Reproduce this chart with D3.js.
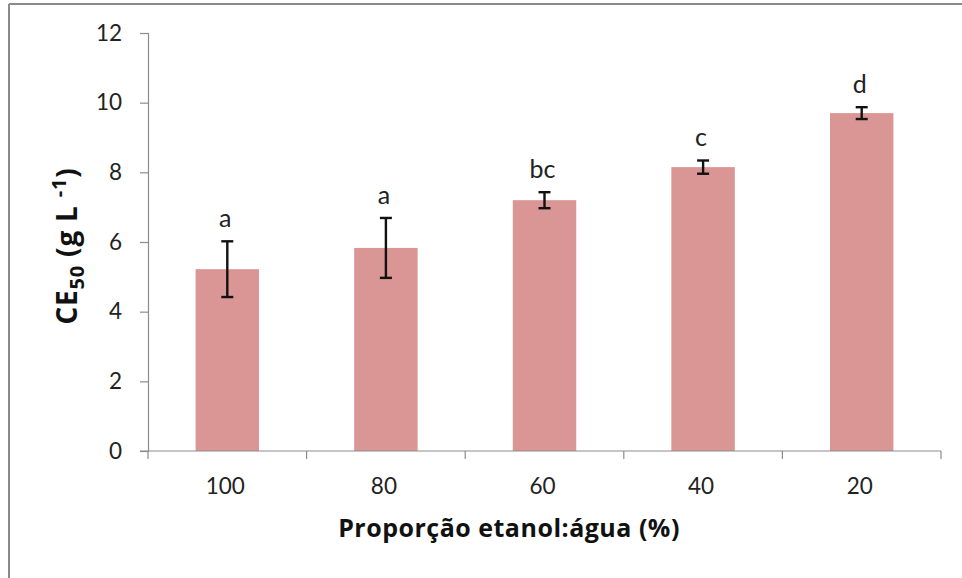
<!DOCTYPE html>
<html>
<head>
<meta charset="utf-8">
<script src="https://cdn.jsdelivr.net/npm/d3@7"></script>
<style>
  html, body { margin: 0; padding: 0; background: #fff; }
  svg { display: block; font-family: Lato, "Open Sans", "Noto Sans", sans-serif; }
</style>
</head>
<body>
<svg id="chart" width="962" height="578"></svg>
<script>
// Data: CE50 by ethanol:water proportion
const categories = ["100", "80", "60", "40", "20"];
const means = [5.22, 5.83, 7.20, 8.15, 9.70];
const errors = [0.80, 0.86, 0.23, 0.19, 0.17];
const letters = ["a", "a", "bc", "c", "d"];
const yTicks = [0, 2, 4, 6, 8, 10, 12];

const svg = d3.select("#chart");
const W = 962, H = 578;
const bodyFont = "Lato, 'Open Sans', sans-serif";
const titleFont = "'Open Sans', Lato, sans-serif";

// Frame (top and left edges)
svg.append("line").attr("x1", 9).attr("x2", W).attr("y1", 4).attr("y2", 4)
  .attr("stroke", "#8a8a8a").attr("stroke-width", 2);
svg.append("line").attr("x1", 9).attr("x2", 9).attr("y1", 4).attr("y2", H)
  .attr("stroke", "#8a8a8a").attr("stroke-width", 2);

const plot = { left: 148, right: 941, top: 33, bottom: 451 };

const x = d3.scaleBand().domain(categories)
  .range([plot.left, plot.right]).paddingInner(0).paddingOuter(0);
const y = d3.scaleLinear().domain([0, 12]).range([plot.bottom, plot.top]);

const barW = x.bandwidth() * 0.4;

// Bars
svg.append("g").selectAll("rect").data(categories).join("rect")
  .attr("x", (d) => x(d) + (x.bandwidth() - barW) / 2)
  .attr("width", barW)
  .attr("y", (d, i) => y(means[i]))
  .attr("height", (d, i) => y(0) - y(means[i]))
  .attr("fill", "#d99694");

// Y axis
const yAxis = svg.append("g").attr("transform", `translate(${plot.left},0)`)
  .call(d3.axisLeft(y).tickValues(yTicks).tickSize(8).tickPadding(18).tickFormat(d3.format("d")));
yAxis.attr("font-family", null).attr("font-size", null);
yAxis.select(".domain").attr("stroke", "#8c8c8c").attr("stroke-width", 1.2);
yAxis.selectAll(".tick line").attr("stroke", "#8c8c8c").attr("stroke-width", 1.2);
yAxis.selectAll(".tick text").style("font-size", "22.5px").attr("fill", "#222")
  .style("font-family", bodyFont);

// X axis with category boundary ticks
const xAxisG = svg.append("g").attr("transform", `translate(0,${plot.bottom})`);
xAxisG.append("line").attr("x1", plot.left - 8).attr("x2", plot.right)
  .attr("y1", 0).attr("y2", 0).attr("stroke", "#8c8c8c").attr("stroke-width", 1.2);
const bounds = categories.map((d) => x(d)).concat([plot.right]);
xAxisG.selectAll("line.bt").data(bounds).join("line").attr("class", "bt")
  .attr("x1", (d) => d).attr("x2", (d) => d).attr("y1", 0).attr("y2", 8)
  .attr("stroke", "#8c8c8c").attr("stroke-width", 1.2);
xAxisG.selectAll("text").data(categories).join("text")
  .attr("x", (d) => x(d) + x.bandwidth() / 2 - 2)
  .attr("y", 43)
  .attr("text-anchor", "middle")
  .style("font-family", bodyFont).style("font-size", "22.5px").attr("fill", "#222")
  .text((d) => d);

// Error bars
const eb = svg.append("g").attr("stroke", "#111").attr("stroke-width", 2.4);
categories.forEach((c, i) => {
  const cx = x(c) + x.bandwidth() / 2;
  const y1 = y(means[i] + errors[i]), y0 = y(means[i] - errors[i]);
  eb.append("line").attr("x1", cx).attr("x2", cx).attr("y1", y1).attr("y2", y0);
  eb.append("line").attr("x1", cx - 6).attr("x2", cx + 6).attr("y1", y1).attr("y2", y1);
  eb.append("line").attr("x1", cx - 6).attr("x2", cx + 6).attr("y1", y0).attr("y2", y0);
});

// Significance letters above the error bars
svg.append("g").selectAll("text").data(categories).join("text")
  .attr("x", (d) => x(d) + x.bandwidth() / 2 - 2)
  .attr("y", (d, i) => y(means[i] + errors[i]) - 14)
  .attr("text-anchor", "middle")
  .style("font-family", bodyFont).style("font-size", "25px").attr("fill", "#222")
  .text((d, i) => letters[i]);

// X axis title
svg.append("text")
  .attr("x", 509)
  .attr("y", 537)
  .attr("text-anchor", "middle")
  .style("font-family", titleFont).style("font-size", "25px").style("font-weight", "bold")
  .style("letter-spacing", "0.5px")
  .attr("fill", "#111")
  .text("Proporção etanol:água (%)");

// Y axis title with subscript and superscript
const yt = svg.append("text")
  .attr("transform", "translate(77,246) rotate(-90)")
  .attr("text-anchor", "middle")
  .style("font-family", titleFont).style("font-size", "28px").style("font-weight", "bold")
  .style("letter-spacing", "0.8px")
  .attr("fill", "#111");
yt.append("tspan").text("CE");
yt.append("tspan").style("font-size", "20px").attr("dy", 7).text("50");
yt.append("tspan").attr("dy", -7).text(" (g L ");
yt.append("tspan").style("font-size", "20px").attr("dy", -11).text("-1");
yt.append("tspan").attr("dy", 11).text(")");
</script>
</body>
</html>
